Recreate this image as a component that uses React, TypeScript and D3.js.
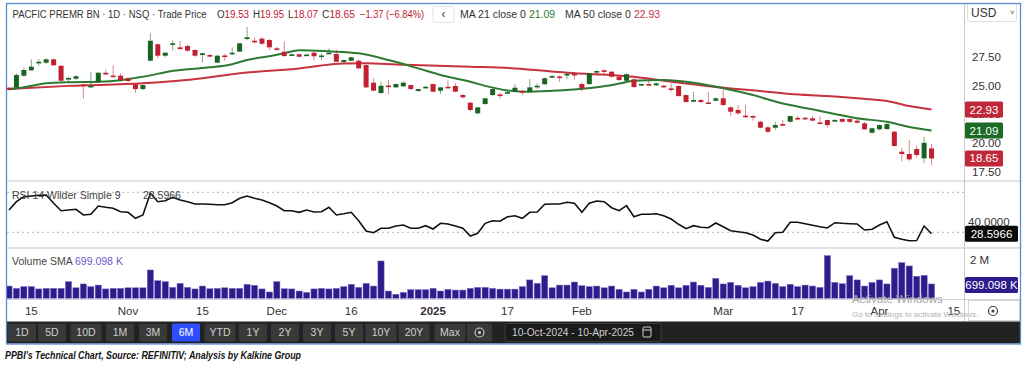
import React from 'react';
import * as d3 from 'd3';

// ---------- DATA ----------
const dates = [
  "2024-10-10","2024-10-11","2024-10-14","2024-10-15","2024-10-16","2024-10-17","2024-10-18","2024-10-21","2024-10-22","2024-10-23","2024-10-24","2024-10-25","2024-10-28","2024-10-29","2024-10-30","2024-10-31",
  "2024-11-01","2024-11-04","2024-11-05","2024-11-06","2024-11-07","2024-11-08","2024-11-11","2024-11-12","2024-11-13","2024-11-14","2024-11-15","2024-11-18","2024-11-19","2024-11-20","2024-11-21","2024-11-22","2024-11-25","2024-11-26","2024-11-27","2024-11-29",
  "2024-12-02","2024-12-03","2024-12-04","2024-12-05","2024-12-06","2024-12-09","2024-12-10","2024-12-11","2024-12-12","2024-12-13","2024-12-16","2024-12-17","2024-12-18","2024-12-19","2024-12-20","2024-12-23","2024-12-24","2024-12-26","2024-12-27","2024-12-30","2024-12-31",
  "2025-01-02","2025-01-03","2025-01-06","2025-01-07","2025-01-08","2025-01-10","2025-01-13","2025-01-14","2025-01-15","2025-01-16","2025-01-17","2025-01-21","2025-01-22","2025-01-23","2025-01-24","2025-01-27","2025-01-28","2025-01-29","2025-01-30","2025-01-31",
  "2025-02-03","2025-02-04","2025-02-05","2025-02-06","2025-02-07","2025-02-10","2025-02-11","2025-02-12","2025-02-13","2025-02-14","2025-02-18","2025-02-19","2025-02-20","2025-02-21","2025-02-24","2025-02-25","2025-02-26","2025-02-27","2025-02-28",
  "2025-03-03","2025-03-04","2025-03-05","2025-03-06","2025-03-07","2025-03-10","2025-03-11","2025-03-12","2025-03-13","2025-03-14","2025-03-17","2025-03-18","2025-03-19","2025-03-20","2025-03-21","2025-03-24","2025-03-25","2025-03-26","2025-03-27","2025-03-28","2025-03-31",
  "2025-04-01","2025-04-02","2025-04-03","2025-04-04","2025-04-07","2025-04-08","2025-04-09","2025-04-10"
];
const futureDates = ["2025-04-11", "2025-04-14", "2025-04-15"];

const open = [
  24.84,24.87,25.89,26.36,26.97,27.03,27.32,26.76,25.57,25.63,25.12,24.95,25.31,26.15,25.9,25.89,
  25.66,25.14,24.72,27.2,28.64,27.64,28.68,28.37,28.49,28.14,27.7,27.7,27.03,27.66,27.77,28.0,29.1,28.95,29.13,29.01,
  28.28,27.99,27.7,27.76,27.66,27.9,27.62,27.85,27.79,27.09,27.2,27.2,26.82,25.28,24.37,25.03,24.87,24.96,25.07,24.55,24.88,
  25.16,24.58,24.92,24.99,24.2,23.53,22.6,23.41,24.2,24.25,24.4,24.49,24.55,24.49,24.87,25.14,25.72,25.82,26.0,26.05,
  25.16,25.16,26.19,26.36,26.24,25.8,25.45,25.57,25.12,25.16,25.05,25.01,24.78,24.99,24.2,23.7,23.76,23.55,23.7,
  23.91,23.12,22.89,22.4,22.36,21.86,21.37,21.34,21.66,21.86,22.2,22.21,22.16,21.8,22.01,21.98,22.1,22.1,21.95,21.72,20.9,
  21.2,21.22,20.99,19.24,19.04,19.48,18.66,19.53
];
const high = [
  24.9,26.1,26.59,27.32,27.35,27.41,27.38,26.8,25.8,25.95,25.15,26.24,26.2,26.4,26.82,26.1,
  25.75,25.2,25.1,29.6,28.7,27.95,28.98,28.92,28.6,28.2,27.9,27.8,27.7,27.8,28.37,28.75,30.15,29.2,29.25,29.1,
  28.4,28.87,27.82,27.85,27.82,27.95,27.85,28.28,28.14,27.3,27.55,27.32,26.88,25.66,25.36,25.51,25.2,25.4,25.12,24.75,24.98,
  25.2,24.9,25.5,25.22,24.3,23.6,23.15,23.95,24.78,24.4,24.55,25.14,24.63,25.6,25.2,25.75,25.95,25.92,26.24,26.2,
  25.3,26.15,26.35,26.45,26.3,25.85,26.1,25.62,25.2,25.66,25.3,25.1,25.22,25.05,24.25,24.49,23.85,24.5,24.0,
  24.7,23.2,23.32,23.32,22.45,21.95,21.5,21.86,22.01,22.4,22.36,22.3,22.36,22.36,22.05,22.1,22.2,22.15,22.1,21.85,21.35,
  21.62,21.72,21.05,19.55,20.26,19.8,20.55,19.95
];
const low = [
  24.6,24.8,25.8,26.3,26.76,26.9,26.76,25.4,25.31,25.5,23.9,24.9,25.28,25.95,25.82,25.4,
  25.35,24.4,24.65,27.15,27.46,27.5,28.1,28.2,28.0,27.55,27.06,27.5,26.98,27.2,27.7,27.95,29.0,28.7,28.6,28.14,
  28.1,27.55,27.6,27.5,27.6,27.26,27.25,27.8,27.1,27.0,27.15,26.5,24.8,24.55,24.33,24.28,24.82,24.9,24.65,24.5,24.8,
  24.45,24.3,24.8,24.45,23.9,22.75,22.5,23.35,24.1,23.91,24.3,24.45,24.2,24.45,24.75,25.1,25.7,25.35,25.57,25.55,
  24.55,25.1,25.9,26.05,25.75,25.45,25.4,24.85,25.05,25.05,25.0,24.85,24.49,24.05,23.5,23.55,23.5,23.45,23.65,
  23.25,22.36,22.5,22.2,21.95,21.3,20.85,21.14,21.5,21.8,22.0,22.0,21.9,21.7,21.37,21.9,21.8,21.75,21.7,21.15,20.85,
  21.1,21.18,19.7,18.4,18.45,18.7,18.22,18.07
];
const close = [
  24.65,25.95,26.39,26.68,27.11,27.32,26.8,25.45,25.69,25.84,25.07,25.0,26.15,26.0,25.85,25.51,
  25.42,24.72,25.07,28.95,27.64,27.9,28.72,28.22,28.08,27.64,27.85,27.59,27.64,27.64,27.9,28.72,29.25,28.81,28.69,28.37,
  28.14,27.61,27.76,27.55,27.74,27.59,27.66,27.9,27.11,27.26,27.5,26.53,24.87,24.58,25.01,25.0,25.16,25.28,24.72,24.72,24.92,
  24.49,24.87,24.9,24.49,24.0,22.89,23.12,23.91,24.72,24.18,24.45,24.84,24.5,24.87,25.01,25.66,25.86,25.8,26.04,26.0,
  24.78,26.1,26.3,26.33,25.8,25.51,26.02,24.9,25.16,25.13,25.22,24.87,24.64,24.11,23.59,23.76,23.59,23.53,23.91,
  23.32,22.74,22.6,22.36,22.25,21.34,20.99,21.57,21.55,22.36,22.18,22.07,21.96,21.78,21.57,22.01,21.86,21.86,21.78,21.2,21.29,
  21.57,21.66,19.74,19.04,18.57,18.95,20.02,18.65
];
const volumeM = [
  0.64,0.52,0.61,0.61,0.49,0.52,0.52,0.52,0.87,0.55,0.75,0.61,0.69,0.49,0.52,0.52,
  0.55,0.55,0.55,1.48,0.92,0.87,0.57,0.78,0.57,0.49,0.64,0.5,0.52,0.55,0.52,0.52,0.73,0.68,0.49,0.33,
  0.87,0.5,0.49,0.38,0.31,0.49,0.52,0.49,0.52,0.61,0.73,0.57,0.78,0.64,1.95,0.38,0.21,0.31,0.45,0.45,0.45,
  0.52,0.38,0.47,0.43,0.43,0.52,0.57,0.57,0.52,0.48,0.48,0.48,0.61,0.96,0.78,1.18,0.55,0.69,0.69,0.85,
  0.66,0.61,0.64,0.55,0.64,0.47,0.33,0.47,0.33,0.47,0.64,0.55,0.68,0.55,0.68,0.85,0.68,0.57,1.04,
  0.75,0.83,0.68,0.55,0.61,0.83,0.9,0.78,0.61,0.73,0.61,0.69,0.64,0.57,2.23,0.83,0.76,1.18,0.96,0.64,0.83,
  0.96,0.75,1.57,1.86,1.69,1.15,1.2,0.75
];
const rsi14 = [
  52.3,60.6,65.6,66.3,67,67.3,59,51.6,52.3,53,47.3,48,56.3,55,54,50.6,
  50,44,47.3,69,60.6,61.6,65,62.3,60.6,58.3,58.3,58,57.6,57.6,59.6,64,66.3,64,62.3,59.6,
  56.3,51.6,51.6,50,52.3,50.3,50.6,55,47.3,48.5,50,41.6,31.3,29.6,34,34,36.3,37.3,34,34,36.6,
  33.3,39,38.3,36.3,34,26.3,29,39,41.6,41,45.5,46.5,44,50,50.3,58,58.3,58.3,60,59,
  50,59,61.3,60.6,54.6,51.6,56.6,45.6,48,48,48.6,46.6,43.3,38,33.6,36.6,35,34.6,39.3,
  35.6,31.6,30.6,29.6,27.3,23,21.3,29.6,30,40,40,38.5,37,35.5,34.3,39.6,39,38.6,38.3,32.3,33,
  37.3,40.6,25,23,21.6,21.8,36.3,28.6
];
const ma21Idx = [0,2,5,8,12,15,17,19,21,24,27,30,32,35,37,39,43,47,51,55,58,62,64,67,70,74,79,82,84,88,92,96,100,104,108,111,114,118,121,124];
const ma21Val = [24.7,24.87,25.22,25.32,25.36,25.5,25.7,25.92,26.2,26.45,26.62,26.9,27.26,27.6,27.85,28.12,28.02,27.85,27.26,26.53,25.95,25.36,25.0,24.6,24.49,24.6,24.87,25.2,25.45,25.51,25.28,24.8,24.2,23.45,22.95,22.54,22.16,21.86,21.4,21.09];
const ma50Idx = [0,8,18,26,31,39,45,48,52,62,68,75,84,88,97,101,105,110,114,118,121,124];
const ma50Val = [24.72,25.0,25.22,25.66,26.1,26.53,26.95,26.97,26.88,26.68,26.53,26.15,25.8,25.45,24.78,24.55,24.29,24.11,23.91,23.67,23.24,22.93];
const rsiLast = 28.5966;
const volSmaLast = 0.699098;

const xTickDates = ["2024-10-15","2024-11-01","2024-11-15","2024-12-02","2024-12-16","2025-01-02","2025-01-17","2025-02-03","2025-03-03","2025-03-17","2025-04-01","2025-04-15"];
const xTickLabels = ["15","Nov","15","Dec","16","2025","17","Feb","Mar","17","Apr","15"];
const priceTicks = [17.5, 20, 22.5, 25, 27.5];
const rangeButtons = ["1D","5D","10D","1M","3M","6M","YTD","1Y","2Y","3Y","5Y","10Y","20Y","Max"];
const rangeCenters = [22, 52, 86, 120, 153, 186, 220, 253, 285, 317, 349, 381, 414, 450];

// ---------- STYLE ----------
const UP = "#1b6322";
const DOWN = "#c0202f";
const MA21C = "#2d7a32";
const MA50C = "#c8323f";
const VOLC = "#2e1b8c";
const FONT = "'Liberation Sans', Arial, sans-serif";

export default function App() {
  const allDates = [...dates, ...futureDates];
  const x = d3.scalePoint<string>().domain(allDates).range([9, 9 + (allDates.length - 1) * 7.44]);
  const xi = (i: number) => x(dates[i]) as number;
  const yP = d3.scaleLinear().domain([17.5, 27.5]).range([171.6, 57.3]);
  const yR = d3.scaleLinear().domain([30, 70]).range([232.3, 192.3]);
  const yV = d3.scaleLinear().domain([0, 2]).range([298.3, 260]);

  const plotL = 7, plotR = 964;
  const bodyW = 5;

  const ma21Line = d3.line<number>().x((d, k) => xi(ma21Idx[k])).y(d => yP(d)).curve(d3.curveMonotoneX)(ma21Val) as string;
  const ma50Line = d3.line<number>().x((d, k) => xi(ma50Idx[k])).y(d => yP(d)).curve(d3.curveMonotoneX)(ma50Val) as string;
  const rsiLine = d3.line<number>().x((d, k) => xi(k)).y(d => yR(d))(rsi14) as string;

  const f2 = d3.format(".2f");
  const last = close.length - 1;
  const chg = close[last] - close[last - 1];
  const pct = chg / close[last - 1] * 100;

  const badge = (yc: number, text: string, fill: string, w = 38) => (
    <g>
      <rect x={965} y={yc - 8} width={w} height={16} rx={1.5} fill={fill} />
      <text x={965 + w / 2} y={yc + 4} textAnchor="middle" fontSize={11.5} fill="#fff" fontFamily={FONT}>{text}</text>
    </g>
  );

  return (
    <svg width={1027} height={366} style={{ position: 'absolute', left: 0, top: 0, background: '#fff' }} fontFamily={FONT}>
      <defs>
        <clipPath id="cMain"><rect x={plotL} y={24} width={plotR - plotL} height={156} /></clipPath>
        <clipPath id="cRsi"><rect x={plotL} y={183} width={plotR - plotL} height={64} /></clipPath>
        <clipPath id="cVol"><rect x={plotL} y={249} width={plotR - plotL} height={50} /></clipPath>
      </defs>
      <rect x={0} y={0} width={1027} height={366} fill="#fff" />

      {/* separators */}
      <rect x={plotL} y={180} width={1020 - plotL} height={2.2} fill="#e3e3e3" />
      <rect x={plotL} y={246.8} width={1020 - plotL} height={2.2} fill="#e3e3e3" />
      <line x1={plotL} x2={1020} y1={299.5} y2={299.5} stroke="#d6d6d6" strokeWidth={1} />
      <line x1={plotR + 0.5} x2={plotR + 0.5} y1={3} y2={321} stroke="#c9c9c9" strokeWidth={1} />

      {/* main panel: MAs and candles */}
      <g clipPath="url(#cMain)">
        <path d={ma50Line} fill="none" stroke={MA50C} strokeWidth={2} />
        <path d={ma21Line} fill="none" stroke={MA21C} strokeWidth={2} />
        {close.map((c, i) => {
          const o = open[i];
          const up = c >= o;
          const col = up ? UP : DOWN;
          const cx = xi(i);
          const top = yP(Math.max(o, c));
          const bot = yP(Math.min(o, c));
          const h = Math.max(1.6, bot - top);
          return (
            <g key={i}>
              <line x1={cx} x2={cx} y1={yP(high[i])} y2={yP(low[i])} stroke={col} strokeWidth={1} strokeOpacity={0.55} />
              <rect x={cx - bodyW / 2} y={top} width={bodyW} height={h} fill={col} />
            </g>
          );
        })}
      </g>

      {/* header */}
      <g fontSize={10} fill="#333">
        <text x={12.5} y={17.5} textLength={194} lengthAdjust="spacingAndGlyphs">PACFIC PREMR BN · 1D · NSQ · Trade Price</text>
        <text x={217} y={17.5} textLength={32} lengthAdjust="spacingAndGlyphs">O<tspan fill={DOWN}>{f2(open[last])}</tspan></text>
        <text x={253} y={17.5} textLength={31} lengthAdjust="spacingAndGlyphs">H<tspan fill={DOWN}>{f2(high[last])}</tspan></text>
        <text x={288} y={17.5} textLength={30} lengthAdjust="spacingAndGlyphs">L<tspan fill={DOWN}>{f2(low[last])}</tspan></text>
        <text x={322} y={17.5} textLength={33} lengthAdjust="spacingAndGlyphs">C<tspan fill={DOWN}>{f2(close[last])}</tspan></text>
        <text x={360} y={17.5} fill={DOWN} textLength={64} lengthAdjust="spacingAndGlyphs">{`${f2(chg)} (${pct.toFixed(2).replace('-', '−')}%)`}</text>
        <rect x={433} y={6.5} width={21} height={16} rx={2} fill="#fff" stroke="#e2e2e2" />
        <text x={443.5} y={18} textAnchor="middle" fontSize={12} fill="#444">‹</text>
        <text x={460} y={17.5} fontSize={10.5}>MA 21 close 0 <tspan fill={MA21C}>{f2(ma21Val[ma21Val.length - 1])}</tspan></text>
        <text x={565} y={17.5} fontSize={10.5}>MA 50 close 0 <tspan fill={MA50C}>{f2(ma50Val[ma50Val.length - 1])}</tspan></text>
      </g>

      {/* USD box */}
      <rect x={967.5} y={3.5} width={49} height={18} rx={2} fill="#fff" stroke="#e0e0e0" />
      <text x={971} y={17} fontSize={12} fill="#333">USD</text>
      <text x={1010} y={15} fontSize={8} fill="#555">˅</text>

      {/* price axis */}
      {priceTicks.map(t => (
        <text key={t} x={972} y={yP(t) + 4} fontSize={11.5} fill="#333">{f2(t)}</text>
      ))}
      {badge(yP(ma50Val[ma50Val.length - 1]), f2(ma50Val[ma50Val.length - 1]), "#c0283a")}
      {badge(yP(ma21Val[ma21Val.length - 1]), f2(ma21Val[ma21Val.length - 1]), "#1d6b26")}
      {badge(yP(close[last]), f2(close[last]), "#c0283a")}

      {/* RSI panel */}
      <line x1={plotL} x2={plotR} y1={yR(70)} y2={yR(70)} stroke="#b5b5b5" strokeDasharray="2,3" strokeWidth={1} />
      <line x1={plotL} x2={plotR} y1={yR(30)} y2={yR(30)} stroke="#b5b5b5" strokeDasharray="2,3" strokeWidth={1} />
      <g clipPath="url(#cRsi)">
        <path d={rsiLine} fill="none" stroke="#111" strokeWidth={1.6} />
      </g>
      <text x={12} y={199} fontSize={10.5} fill="#444">RSI 14 Wilder Simple 9</text>
      <text x={143} y={199} fontSize={10.5} fill="#444">{rsiLast.toFixed(4)}</text>
      <text x={968} y={yR(40) + 4} fontSize={11.5} fill="#333">40.0000</text>
      <rect x={965} y={yR(rsiLast) - 8} width={53} height={16} rx={1.5} fill="#0a0a0a" />
      <text x={991.5} y={yR(rsiLast) + 4} textAnchor="middle" fontSize={11.5} fill="#fff">{rsiLast.toFixed(4)}</text>

      {/* Volume panel */}
      <g clipPath="url(#cVol)">
        {volumeM.map((v, i) => (
          <rect key={i} x={xi(i) - 3.1} y={yV(v)} width={6.2} height={yV(0) - yV(v)} fill={VOLC} stroke="#7d71c4" strokeWidth={0.5} />
        ))}
      </g>
      <text x={12} y={265} fontSize={10.5} fill="#444">Volume SMA</text>
      <text x={75} y={265} fontSize={10.5} fill="#6a5cc9">{(volSmaLast * 1000).toFixed(3)} K</text>
      <text x={970} y={yV(2) + 4} fontSize={11.5} fill="#333">2 M</text>
      <rect x={965} y={yV(volSmaLast) - 8} width={53} height={16} rx={1.5} fill={VOLC} />
      <text x={991.5} y={yV(volSmaLast) + 4} textAnchor="middle" fontSize={11.5} fill="#fff">{(volSmaLast * 1000).toFixed(3)} K</text>

      {/* x axis */}
      {xTickDates.map((d, k) => (
        <text key={d} x={x(d) as number} y={315} textAnchor="middle" fontSize={11.5} fill="#333" fontWeight={xTickLabels[k] === "2025" ? 700 : 400}>{xTickLabels[k]}</text>
      ))}
      <text x={852} y={303} fontSize={11.5} fill="#a8a8a8">Activate Windows</text>
      <text x={852} y={317} fontSize={8} fill="#b0b0b0">Go to Settings to activate Windows.</text>
      <rect x={968.5} y={300.5} width={51} height={20} fill="none" stroke="#d6d6d6" />
      <circle cx={993} cy={311} r={4.5} fill="none" stroke="#444" strokeWidth={1.2} />
      <circle cx={993} cy={311} r={1.6} fill="#444" />

      {/* toolbar */}
      <rect x={7} y={321.5} width={1013} height={22} fill="#222" />
      {rangeButtons.map((b, k) => {
        const w = b.length > 2 ? 31 : 28;
        const sel = b === "6M";
        return (
          <g key={b}>
            <rect x={rangeCenters[k] - w / 2} y={323.5} width={w} height={18} rx={1.5} fill={sel ? "#2d4dff" : "#393939"} />
            <text x={rangeCenters[k]} y={336} textAnchor="middle" fontSize={10.5} fill={sel ? "#fff" : "#cfcfcf"}>{b}</text>
          </g>
        );
      })}
      <rect x={467} y={323.5} width={25} height={18} rx={1.5} fill="#393939" />
      <circle cx={479.5} cy={332.5} r={4.5} fill="none" stroke="#cfcfcf" strokeWidth={1.1} />
      <circle cx={479.5} cy={332.5} r={1.5} fill="#cfcfcf" />
      <rect x={505} y={323.5} width={156} height={18} rx={1.5} fill="#1a1a1a" stroke="#3a3a3a" />
      <text x={512} y={336} fontSize={10.5} fill="#d0d0d0" textLength={122} lengthAdjust="spacingAndGlyphs">10-Oct-2024 - 10-Apr-2025</text>
      <rect x={643} y={327} width={8} height={10} rx={1} fill="none" stroke="#d0d0d0" strokeWidth={1} />
      <line x1={643} x2={651} y1={330} y2={330} stroke="#d0d0d0" strokeWidth={1} />

      {/* frame */}
      <rect x={6.5} y={3.5} width={1014} height={340.5} fill="none" stroke="#5b8bd6" strokeWidth={1.3} />

      {/* caption */}
      <text x={5} y={359} fontSize={10} fontWeight={700} fontStyle="italic" fill="#111" textLength={296} lengthAdjust="spacingAndGlyphs">PPBI's Technical Chart, Source: REFINITIV; Analysis by Kalkine Group</text>
    </svg>
  );
}
